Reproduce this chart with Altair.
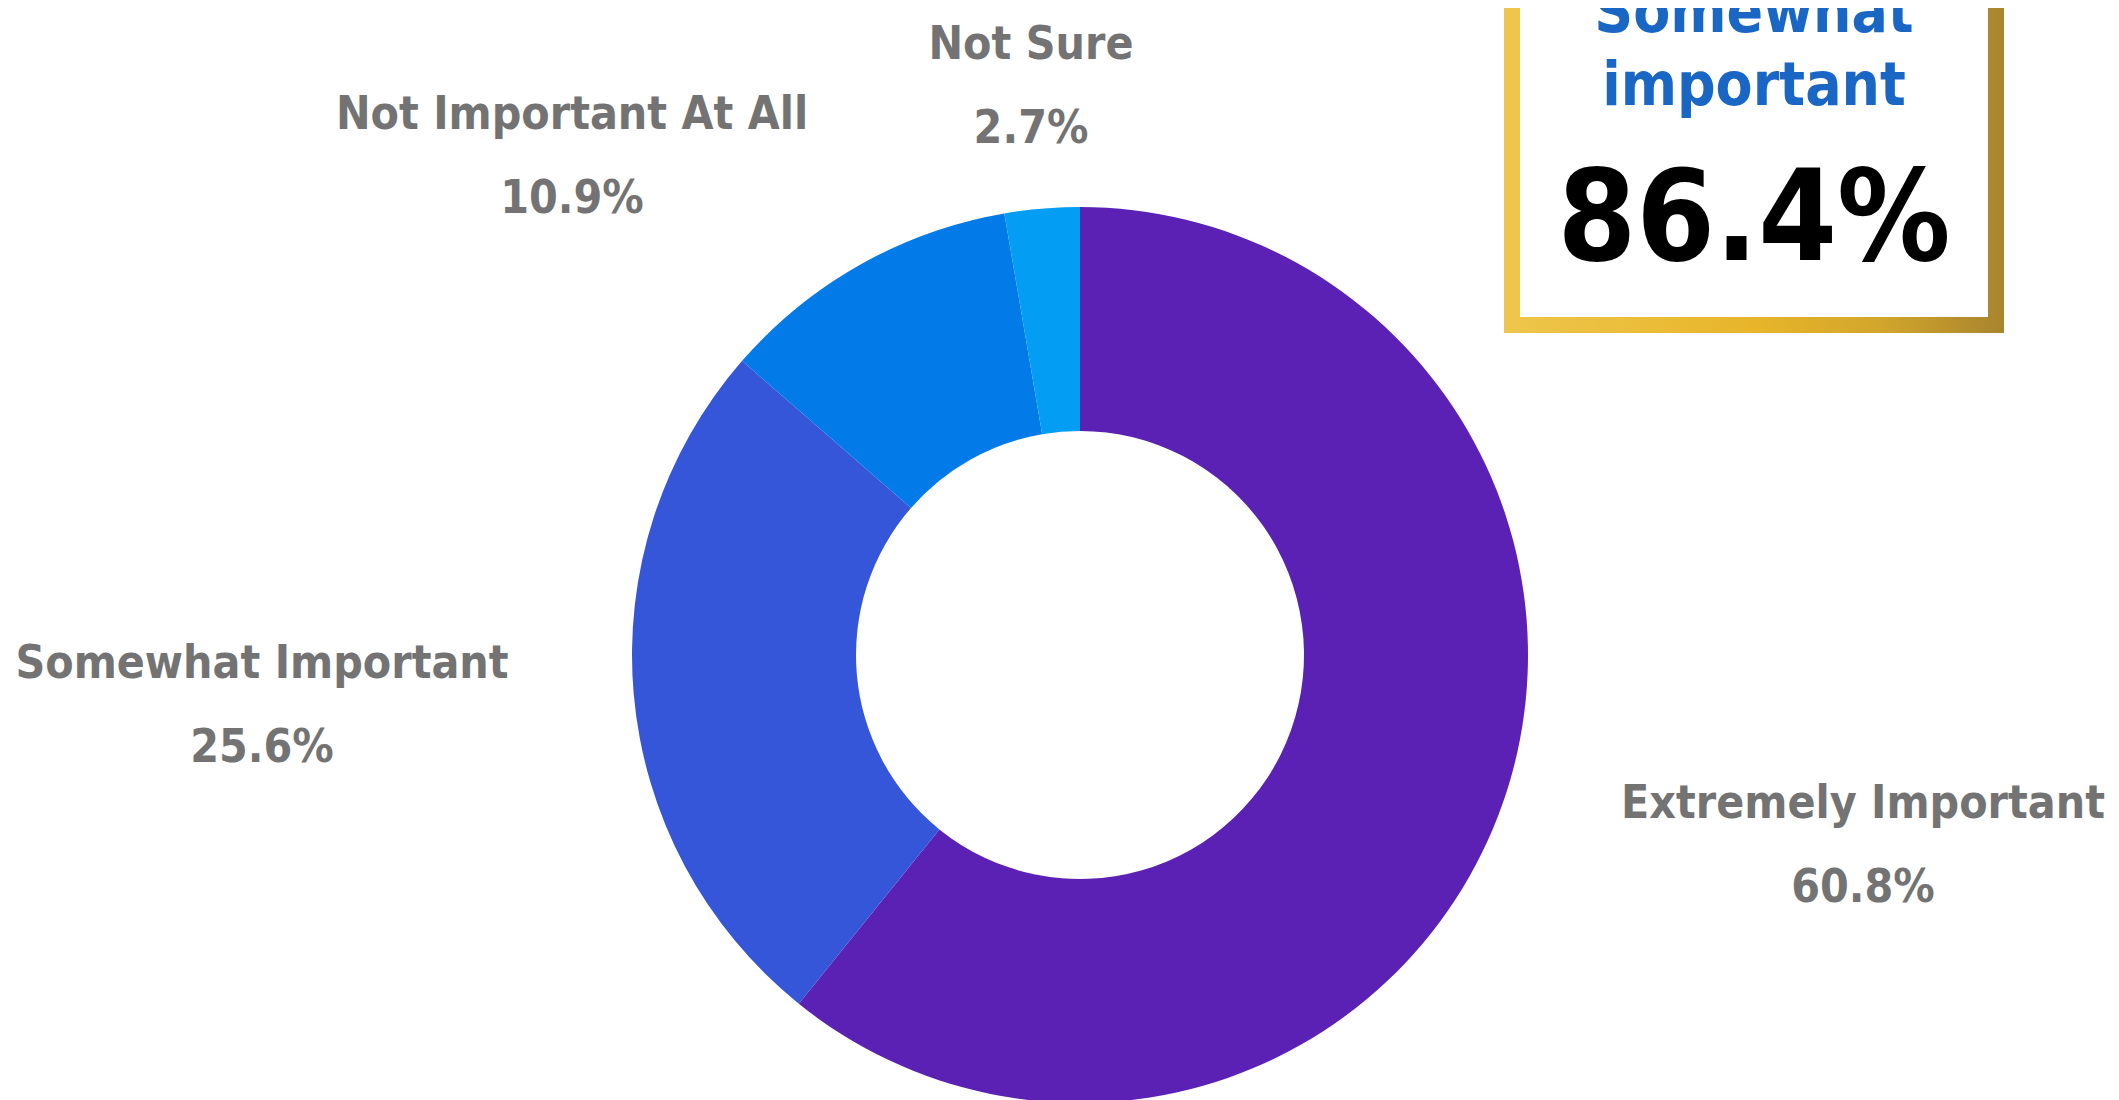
import altair as alt
import pandas as pd

# ---- data ----
categories = ["Extremely Important", "Somewhat Important", "Not Important At All", "Not Sure"]
shares = [60.8, 25.6, 10.9, 2.7]
pct_labels = ["60.8%", "25.6%", "10.9%", "2.7%"]
slice_colors = ["#5B21B5", "#3556D8", "#027BE9", "#039EF3"]

callout_lines = ["Somewhat", "important"]
callout_value = "86.4%"

# ---- layout (view pixel coordinates) ----
label_x = [1855, 254, 564, 1023]
label_y = [810, 670, 121, 51]
CX, CY = 1072, 647
R_OUT, R_IN = 448, 224
FONT = "DejaVu Sans Condensed"
GRAY = "#737373"
LABEL_SIZE = 46

df = pd.DataFrame({
    "category": categories,
    "share": shares,
    "pct": pct_labels,
    "order": list(range(len(categories))),
    "lx": label_x,
    "ly": label_y,
})

color_scale = alt.Scale(domain=categories, range=slice_colors)

donut = alt.Chart(df).mark_arc(innerRadius=R_IN, outerRadius=R_OUT).encode(
    theta=alt.Theta("share:Q", stack=True),
    color=alt.Color("category:N", scale=color_scale, legend=None),
    order=alt.Order("order:Q"),
    x=alt.value(CX),
    y=alt.value(CY),
)

names = alt.Chart(df).mark_text(
    font=FONT, fontWeight="bold", fontSize=LABEL_SIZE, color=GRAY, align="center", baseline="alphabetic"
).encode(
    x=alt.X("lx:Q", scale=None),
    y=alt.Y("ly:Q", scale=None),
    text="category:N",
)
pcts = alt.Chart(df).mark_text(
    font=FONT, fontWeight="bold", fontSize=LABEL_SIZE, color=GRAY, align="center", baseline="alphabetic", dy=84
).encode(
    x=alt.X("lx:Q", scale=None),
    y=alt.Y("ly:Q", scale=None),
    text="pct:N",
)

one = pd.DataFrame({"k": [0]})
gold = alt.Gradient(
    gradient="linear",
    stops=[
        alt.GradientStop(color="#EEC64C", offset=0),
        alt.GradientStop(color="#E8B52A", offset=0.5),
        alt.GradientStop(color="#D2A62C", offset=0.75),
        alt.GradientStop(color="#A8842E", offset=1),
    ],
    x1=0, x2=1, y1=0, y2=0,
)
box_outer = alt.Chart(one).mark_rect(color=gold).encode(
    x=alt.value(1496), x2=alt.value(1996), y=alt.value(-40), y2=alt.value(325)
)
box_inner = alt.Chart(one).mark_rect(color="white").encode(
    x=alt.value(1512), x2=alt.value(1980), y=alt.value(-40), y2=alt.value(309)
)

callout_df = pd.DataFrame({"line": callout_lines, "ly": [24, 97]})
callout_text = alt.Chart(callout_df).mark_text(
    font=FONT, fontWeight="bold", fontSize=60, color="#1A66C4", align="center", baseline="alphabetic"
).encode(
    x=alt.value(1746),
    y=alt.Y("ly:Q", scale=None),
    text="line:N",
)
value_text = alt.Chart(pd.DataFrame({"v": [callout_value]})).mark_text(
    font=FONT, fontWeight="bold", fontSize=126, color="black", align="center", baseline="alphabetic"
).encode(
    x=alt.value(1746),
    y=alt.value(252),
    text="v:N",
)

chart = alt.layer(
    donut, names, pcts, box_outer, box_inner, callout_text, value_text
).properties(
    width=2103, height=1092, padding=0, autosize=alt.AutoSizeParams(type="none"), background="white"
).configure_view(stroke=None)

chart.save("out.html", embed_options={"renderer": "svg", "actions": False})
